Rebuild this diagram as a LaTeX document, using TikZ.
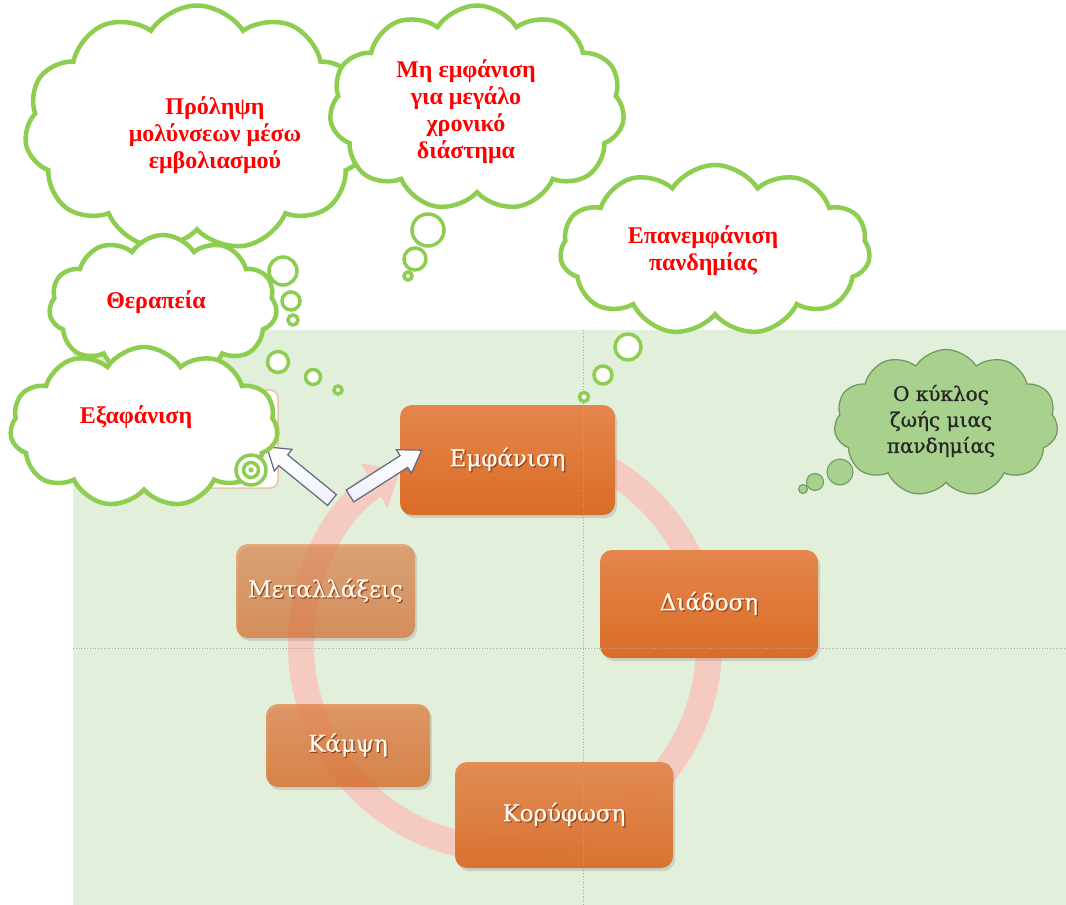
\documentclass[tikz,border=0pt]{standalone}
\usepackage{fontspec}
\setmainfont{Liberation Serif}
\newfontfamily\boxfont[FakeBold=0.7]{DejaVu Serif}
\newfontfamily\titlefont[FakeBold=1.0]{DejaVu Serif}
\usetikzlibrary{shapes.symbols,shadows,arrows.meta}
\definecolor{bg}{RGB}{226,239,218}
\definecolor{cgreen}{RGB}{141,206,80}
\definecolor{dgreen}{RGB}{110,150,95}
\definecolor{lgreen}{RGB}{169,209,142}
\definecolor{ringpink}{RGB}{245,202,193}
\definecolor{otop}{RGB}{228,134,76}
\definecolor{obot}{RGB}{218,108,38}
\definecolor{cream}{RGB}{255,247,236}
\definecolor{tshadow}{RGB}{140,70,30}
\definecolor{gridc}{RGB}{165,170,165}
\definecolor{arrowedge}{RGB}{95,105,125}
\definecolor{tanc}{RGB}{225,200,170}
\newcommand\shadowtext[1]{\leavevmode\rlap{\kern1.2pt\raisebox{-1.2pt}{\textcolor{tshadow}{#1}}}#1}
\begin{document}
\begin{tikzpicture}[x=1pt,y=-1pt,
  stagebox/.style={rounded corners=12pt, inner sep=0pt, text=cream,
    font=\boxfont\fontsize{23}{28}\selectfont,
    top color=otop, bottom color=obot,
    drop shadow={opacity=0.25, shadow xshift=2pt, shadow yshift=-3pt}},
  thought/.style={cloud, cloud puffs=11, cloud puff arc=115, cloud ignores aspect,
    draw=cgreen, line width=4.5pt, fill=white, inner sep=0pt},
  bubble/.style={circle, draw=cgreen, line width=3.5pt, fill=white, inner sep=0pt},
  redtext/.style={text=red, font=\bfseries\fontsize{24}{27}\selectfont, align=center},
  gthought/.style={cloud, cloud puffs=11, cloud puff arc=115, cloud ignores aspect,
    draw=dgreen, line width=1.2pt, fill=lgreen, inner sep=0pt},
  gbubble/.style={circle, draw=dgreen, line width=1pt, fill=lgreen, inner sep=0pt},
  gridline/.style={gridc, dotted, line width=0.8pt},
  ringline/.style={ringpink, line width=26pt, -{Triangle[length=30pt,width=50pt]}},
  blockarrow/.style={draw=arrowedge, line width=1.2pt, top color=white, bottom color=blue!6, line join=miter}
]
\useasboundingbox (0,0) rectangle (1066,905);
\fill[white] (0,0) rectangle (1066,905);
\fill[bg] (73,330) rectangle (1066,905);

% cycle ring
\coordinate (ringc) at (505,645);
\draw[ringline] (ringc) ++(-100:204) arc[start angle=-100, end angle=239, radius=204];

% stage boxes
\node[stagebox, minimum width=215pt, minimum height=110pt] (emf) at (507.5,460) {\shadowtext{Εμφάνιση}};
\node[stagebox, minimum width=218pt, minimum height=108pt] (diad) at (709,604) {\shadowtext{Διάδοση}};
\node[stagebox, minimum width=218pt, minimum height=106pt, fill opacity=0.92, text opacity=1] (kor) at (564,815) {\shadowtext{Κορύφωση}};
\node[stagebox, minimum width=164pt, minimum height=83pt, fill opacity=0.78, text opacity=1] (kam) at (348,745.5) {\shadowtext{Κάμψη}};
\node[stagebox, minimum width=179pt, minimum height=94pt, fill opacity=0.66, text opacity=1] (met) at (325.5,591) {\shadowtext{Μεταλλάξεις}};

% hidden box behind cloud
\node[draw=tanc, fill=white, line width=1.5pt, rounded corners=8pt, minimum width=110pt, minimum height=98pt] (hid) at (223,439) {};

% grid lines
\draw[gridline] (583,330) -- (583,905);
\draw[gridline] (73,648) -- (1066,648);

% block arrows
\begin{scope}[shift={(350,496)}, rotate=32.6]
\path[blockarrow] (0,-7) -- (64,-7) -- (64,-14) -- (85,0) -- (64,14) -- (64,7) -- (0,7) -- cycle;
\end{scope}
\begin{scope}[shift={(332,500)}, rotate=140.8]
\path[blockarrow] (0,-7) -- (63,-7) -- (63,-14) -- (84,0) -- (63,14) -- (63,7) -- (0,7) -- cycle;
\end{scope}

% thought clouds
\node[thought, minimum width=345pt, minimum height=245pt] (c1) at (197,128) {};
\node[redtext] (t1) at (215,135) {Πρόληψη\\μολύνσεων μέσω\\εμβολιασμού};

\node[thought, minimum width=295pt, minimum height=205pt] (c2) at (477,108) {};
\node[redtext] (t2) at (466,112) {Μη εμφάνιση\\για μεγάλο\\χρονικό\\διάστημα};
\node[bubble, minimum size=32pt] (b21) at (428,230) {};
\node[bubble, minimum size=22pt] (b22) at (415,259) {};
\node[bubble, minimum size=8pt] (b23) at (408,276) {};

\node[thought, minimum width=310pt, minimum height=170pt] (c3) at (715,250) {};
\node[redtext] (t3) at (703,251) {Επανεμφάνιση\\πανδημίας};
\node[bubble, minimum size=26pt] (b31) at (628,347) {};
\node[bubble, minimum size=18pt] (b32) at (603,375) {};
\node[bubble, minimum size=9pt] (b33) at (584,397) {};

\node[thought, minimum width=228pt, minimum height=142pt] (c4) at (163,306) {};
\node[redtext] (t4) at (156,302) {Θεραπεία};
\node[bubble, minimum size=28pt] (b41) at (283,271) {};
\node[bubble, minimum size=18pt] (b42) at (291,301) {};
\node[bubble, minimum size=10pt] (b43) at (293,320) {};

\node[thought, minimum width=268pt, minimum height=160pt] (c5) at (144,427) {};
\node[redtext] (t5) at (136,417) {Εξαφάνιση};
\node[bubble, minimum size=21pt] (b51) at (278,362) {};
\node[bubble, minimum size=15pt] (b52) at (313,377) {};
\node[bubble, minimum size=8pt] (b53) at (338,390) {};
\node[bubble, minimum size=30pt] (b54) at (251,470) {};
\node[bubble, minimum size=15pt] (b55) at (251,470) {};
\node[circle, fill=cgreen, minimum size=5pt, inner sep=0pt] (b56) at (251,470) {};

% title cloud
\node[gthought, minimum width=224pt, minimum height=147pt] (c6) at (946,423) {};
\node[font=\titlefont\fontsize{20}{26}\selectfont, align=center, text=black!85] (t6) at (941,421) {Ο κύκλος\\ζωής μιας\\πανδημίας};
\node[gbubble, minimum size=26pt] (b61) at (840,472) {};
\node[gbubble, minimum size=17pt] (b62) at (815,482) {};
\node[gbubble, minimum size=9pt] (b63) at (803,489) {};
\end{tikzpicture}
\end{document}
